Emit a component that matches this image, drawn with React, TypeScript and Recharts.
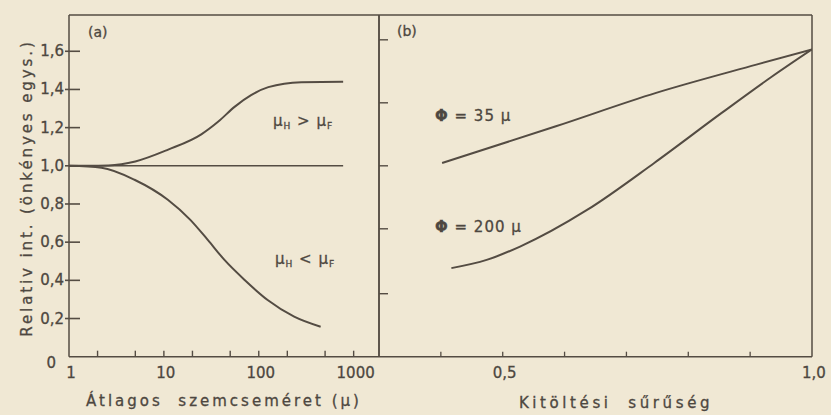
import React from 'react';
import { LineChart, Line, XAxis, YAxis } from 'recharts';

// panel (a): grain size (log) vs relative intensity
const sizeTicks = [1, 2, 5, 10, 20, 50, 100, 200, 500, 1000];
const sizeLabels = [1, 10, 100, 1000];
const intensityTicks = [0, 0.2, 0.4, 0.6, 0.8, 1.0, 1.2, 1.4, 1.6];

const baseX = [1, 775];
const baseY = [1, 1];
const upperX = [1, 1.6, 2.6, 5, 11.1, 24.8, 37.5, 56, 83, 126, 280, 775];
const upperY = [1, 1, 1.002, 1.023, 1.085, 1.165, 1.232, 1.31, 1.37, 1.412, 1.438, 1.44];
const lowerX = [1, 2.2, 4.9, 11, 19, 29, 43.5, 71, 124, 236, 449];
const lowerY = [1, 0.99, 0.927, 0.822, 0.717, 0.612, 0.507, 0.402, 0.297, 0.21, 0.157];

// panel (b): packing density vs relative intensity
const densityTicks = [0.4, 0.5, 0.6, 0.7, 0.8, 0.9, 1.0];
const densityLabels = [0.5, 1.0];
const rightTicks = [0.33, 0.67, 1.0, 1.33, 1.66];
const phi35X = [0.402, 0.586, 0.748, 0.91, 1.0];
const phi35Y = [1.015, 1.207, 1.382, 1.53, 1.61];
const phi200X = [0.417, 0.474, 0.528, 0.637, 0.745, 0.854, 0.936, 1.0];
const phi200Y = [0.464, 0.507, 0.577, 0.77, 1.015, 1.277, 1.469, 1.61];

const zip = (xs: number[], ys: number[]) => xs.map((x, i) => ({ x, y: ys[i] }));

const INK = '#544c43';
const TEXT = '#4d4740';
const BG = '#f0e8d4';
const FONT = '"DejaVu Sans", sans-serif';

// plot box of panel (a), shared by the chart below and the tick dashes in the overlay
const A_LEFT = 69;
const A_RIGHT = 379;
const TOP = 15;
const BOTTOM = 356.7;
const SIZE_MAX = 1850;
const Y_MAX = 1.79;
const sizePx = (v: number) => A_LEFT + (Math.log10(v) / Math.log10(SIZE_MAX)) * (A_RIGHT - A_LEFT);
const intensityPx = (v: number) => BOTTOM - (v / Y_MAX) * (BOTTOM - TOP);

const fmt = (v: number) => (v === 0 ? '0' : v.toFixed(1).replace('.', ','));

const LeftYTick = (props: any) => {
  const { x, y, payload } = props;
  const v = payload.value;
  return (
    <text
      x={v === 0 ? x - 9 : x - 1}
      y={v === 0 ? y + 11 : y + 5}
      textAnchor="end"
      fontSize={15}
      fontFamily={FONT}
      fill={TEXT}
      stroke={TEXT}
      strokeWidth={0.3}
    >
      {fmt(v)}
    </text>
  );
};

const RightYTick = (props: any) => {
  const { x, y } = props;
  return <line x1={x} x2={x + 9} y1={y} y2={y} stroke={INK} strokeWidth={1.4} />;
};

const makeXTick = (labels: number[], format: (v: number) => string, skip: number, dash: boolean) => (props: any) => {
  const { x, y, payload } = props;
  const v = payload.value;
  return (
    <g>
      {dash && v !== skip && <line x1={x} x2={x} y1={y} y2={y - 5} stroke={INK} strokeWidth={1.3} />}
      {labels.includes(v) && (
        <text
          x={x + 2}
          y={y + 21}
          textAnchor="middle"
          fontSize={15}
          fontFamily={FONT}
          fill={TEXT}
          stroke={TEXT}
          strokeWidth={0.3}
        >
          {format(v)}
        </text>
      )}
    </g>
  );
};

const SizeTick = makeXTick(sizeLabels, (v) => String(v), 1, false);
const DensityTick = makeXTick(densityLabels, (v) => v.toFixed(1).replace('.', ','), 1.0, true);

const axisLine = { stroke: INK, strokeWidth: 1.5 };
const lineProps = {
  stroke: INK,
  strokeWidth: 2,
  dot: false,
  isAnimationActive: false,
  type: 'monotone' as const,
};

export default function App() {
  return (
    <div style={{ position: 'fixed', left: 0, top: 0, width: 831, height: 415, background: BG, overflow: 'hidden' }}>
      <div style={{ position: 'absolute', left: 0, top: 0 }}>
        <LineChart width={380} height={415} margin={{ top: 14, right: 0, left: 0, bottom: 0 }}>
          <XAxis
            dataKey="x"
            type="number"
            scale="log"
            domain={[1, SIZE_MAX]}
            allowDataOverflow
            ticks={sizeTicks}
            tick={SizeTick}
            tickLine={false}
            tickSize={0}
            tickMargin={0}
            axisLine={axisLine}
            height={58.3}
            interval={0}
          />
          <XAxis xAxisId="top" orientation="top" type="number" domain={[1, SIZE_MAX]} scale="log" height={1} tick={false} tickLine={false} axisLine={axisLine} />
          <YAxis
            type="number"
            domain={[0, Y_MAX]}
            allowDataOverflow
            ticks={intensityTicks}
            tick={LeftYTick}
            tickLine={false}
            tickSize={-20}
            tickMargin={24}
            axisLine={axisLine}
            width={69}
            interval={0}
          />
          <YAxis yAxisId="right" orientation="right" width={1} tick={false} tickLine={false} axisLine={axisLine} domain={[0, Y_MAX]} />
          <Line data={zip(baseX, baseY)} dataKey="y" {...lineProps} strokeWidth={1.6} type="linear" />
          <Line data={zip(upperX, upperY)} dataKey="y" {...lineProps} />
          <Line data={zip(lowerX, lowerY)} dataKey="y" {...lineProps} />
        </LineChart>
      </div>
      <div style={{ position: 'absolute', left: 378, top: 0 }}>
        <LineChart width={453} height={415} margin={{ top: 14, right: 18, left: 0, bottom: 0 }}>
          <XAxis
            dataKey="x"
            type="number"
            domain={[0.3, 1.0]}
            allowDataOverflow
            ticks={densityTicks}
            tick={DensityTick}
            tickLine={false}
            tickSize={0}
            tickMargin={0}
            axisLine={axisLine}
            height={58.3}
            interval={0}
          />
          <XAxis xAxisId="top" orientation="top" type="number" domain={[0.3, 1.0]} height={1} tick={false} tickLine={false} axisLine={axisLine} />
          <YAxis
            type="number"
            domain={[0, Y_MAX]}
            allowDataOverflow
            ticks={rightTicks}
            tick={RightYTick}
            tickLine={false}
            tickSize={0}
            tickMargin={0}
            axisLine={axisLine}
            width={1}
            interval={0}
          />
          <YAxis yAxisId="right" orientation="right" width={1} tick={false} tickLine={false} axisLine={axisLine} domain={[0, Y_MAX]} />
          <Line data={zip(phi35X, phi35Y)} dataKey="y" {...lineProps} />
          <Line data={zip(phi200X, phi200Y)} dataKey="y" {...lineProps} />
        </LineChart>
      </div>
      <svg
        width={831}
        height={415}
        style={{ position: 'absolute', left: 0, top: 0, pointerEvents: 'none' }}
        fontFamily={FONT}
        fill={TEXT}
      >
        <g stroke={INK} strokeWidth={1.6} fill="none">
          {intensityTicks
            .filter((v) => v > 0)
            .map((v) => (
              <line key={`y${v}`} x1={A_LEFT - 4} x2={A_LEFT + 11} y1={intensityPx(v)} y2={intensityPx(v)} />
            ))}
          {sizeTicks
            .filter((v) => v > 1)
            .map((v) => (
              <line key={`x${v}`} x1={sizePx(v)} x2={sizePx(v)} y1={BOTTOM} y2={BOTTOM - 6} strokeWidth={1.4} />
            ))}
        </g>
        <g stroke={TEXT} strokeWidth={0.3}>
          <text x={88} y={37} fontSize={14}>(a)</text>
          <text x={397} y={36} fontSize={14}>(b)</text>
          <text x={273} y={126} fontSize={15} letterSpacing={1}>
            μ<tspan fontSize={9} dy={3}>H</tspan>
            <tspan dy={-3}> &gt; μ</tspan>
            <tspan fontSize={9} dy={3}>F</tspan>
          </text>
          <text x={275} y={264} fontSize={15} letterSpacing={1}>
            μ<tspan fontSize={9} dy={3}>H</tspan>
            <tspan dy={-3}> &lt; μ</tspan>
            <tspan fontSize={9} dy={3}>F</tspan>
          </text>
          <text x={435} y={121} fontSize={15} letterSpacing={1}>
            <tspan fontWeight="bold">Φ</tspan> = 35  μ
          </text>
          <text x={435} y={232} fontSize={15} letterSpacing={1}>
            <tspan fontWeight="bold">Φ</tspan> = 200  μ
          </text>
          <text
            x={27}
            y={188}
            fontSize={15}
            letterSpacing={2.9}
            textAnchor="middle"
            transform="rotate(-90 27 188)"
            dominantBaseline="central"
            xmlSpace="preserve"
          >
            Relativ int. (önkényes egys.)
          </text>
          <text x={224} y={406} fontSize={15} letterSpacing={3} textAnchor="middle" xmlSpace="preserve">
            Átlagos  szemcseméret (μ)
          </text>
          <text x={616} y={408} fontSize={15} letterSpacing={3.6} textAnchor="middle" xmlSpace="preserve">
            Kitöltési  sűrűség
          </text>
        </g>
      </svg>
    </div>
  );
}
